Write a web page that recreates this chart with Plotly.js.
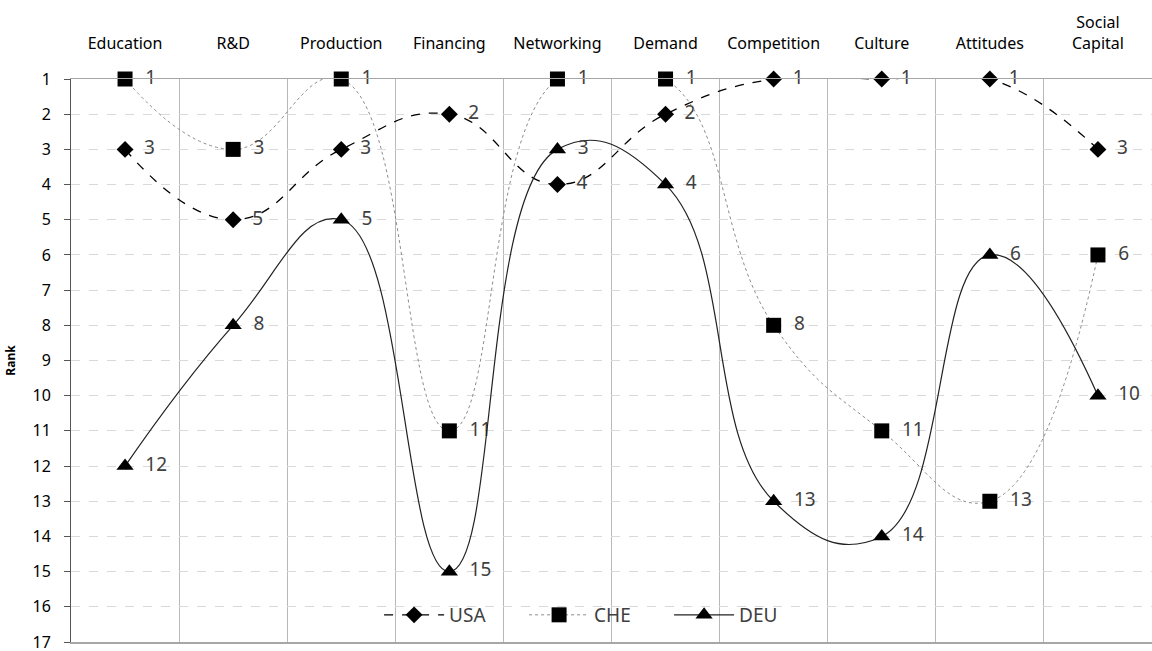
<!DOCTYPE html>
<html><head><meta charset="utf-8">
<script src="https://cdn.plot.ly/plotly-3.0.1.min.js"></script>
<style>html,body{margin:0;padding:0;background:#fff}</style>
</head><body><div id="chart" style="width:1152px;height:651px"></div>
<script>
const categories = ["Education","R&D","Production","Financing","Networking","Demand","Competition","Culture","Attitudes","Social<br>Capital"];
const usa = [3,5,3,2,4,2,1,1,1,3];
const che = [1,3,1,11,1,1,8,11,13,6];
const deu = [12,8,5,15,3,4,13,14,6,10];
const yTicks = [1,2,3,4,5,6,7,8,9,10,11,12,13,14,15,16,17];

const FONT = "Noto Sans, Open Sans, sans-serif";
function series(name, vals, sym, size, line) {
  return {
    x: categories, y: vals, name: name, type: 'scatter', mode: 'lines+markers+text',
    text: vals.map(v => '  ' + v), textposition: 'middle right',
    textfont: {family: FONT, size: 19, color: '#404040'},
    line: Object.assign({shape: 'spline', smoothing: 1.3}, line),
    marker: {symbol: sym, size: size, color: '#000'},
    cliponaxis: false
  };
}
const data = [
  series('USA', usa, 'diamond', 13, {color: '#000', width: 1.3, dash: 'dash'}),
  series('CHE', che, 'square', 15, {color: '#8c8c8c', width: 1, dash: 'dot'}),
  series('DEU', deu, 'triangle-up', 15, {color: '#222', width: 1.2})
];
const layout = {
  width: 1152, height: 651,
  margin: {l: 71, r: 0, t: 79, b: 9},
  paper_bgcolor: '#fff', plot_bgcolor: '#fff',
  font: {family: FONT, color: '#000'},
  showlegend: true,
  legend: {orientation: 'h', x: 0.285, xanchor: 'left', y: 0.048, yanchor: 'middle',
    itemwidth: 60, entrywidth: 70,
    bgcolor: 'rgba(0,0,0,0)', font: {family: FONT, size: 19, color: '#404040'}, traceorder: 'normal'},
  xaxis: {type: 'category', side: 'top', tickson: 'boundaries', showgrid: true,
    gridcolor: '#b8b8b8', gridwidth: 1, ticks: '', showline: true, mirror: true,
    linecolor: '#a6a6a6', linewidth: 1.5, ticklabelstandoff: 22,
    tickfont: {family: FONT, size: 16, color: '#000'},
    range: [-0.5, 9.5], fixedrange: true},
  yaxis: {range: [17, 1], tickvals: yTicks, ticktext: yTicks.map(String),
    showgrid: true, gridcolor: '#d9d9d9', griddash: 'dash', gridwidth: 1,
    ticks: 'outside', ticklen: 6, tickcolor: '#555', showline: true, linecolor: '#555', linewidth: 1,
    ticklabelstandoff: 10, ticklabeloverflow: 'allow',
    zeroline: false, tickfont: {family: FONT, size: 16, color: '#000'},
    title: {text: '<b>Rank</b>', font: {family: FONT, size: 12, color: '#000'}, standoff: 14}}
};
Plotly.newPlot('chart', data, layout, {displayModeBar: false, staticPlot: true});
</script></body></html>
